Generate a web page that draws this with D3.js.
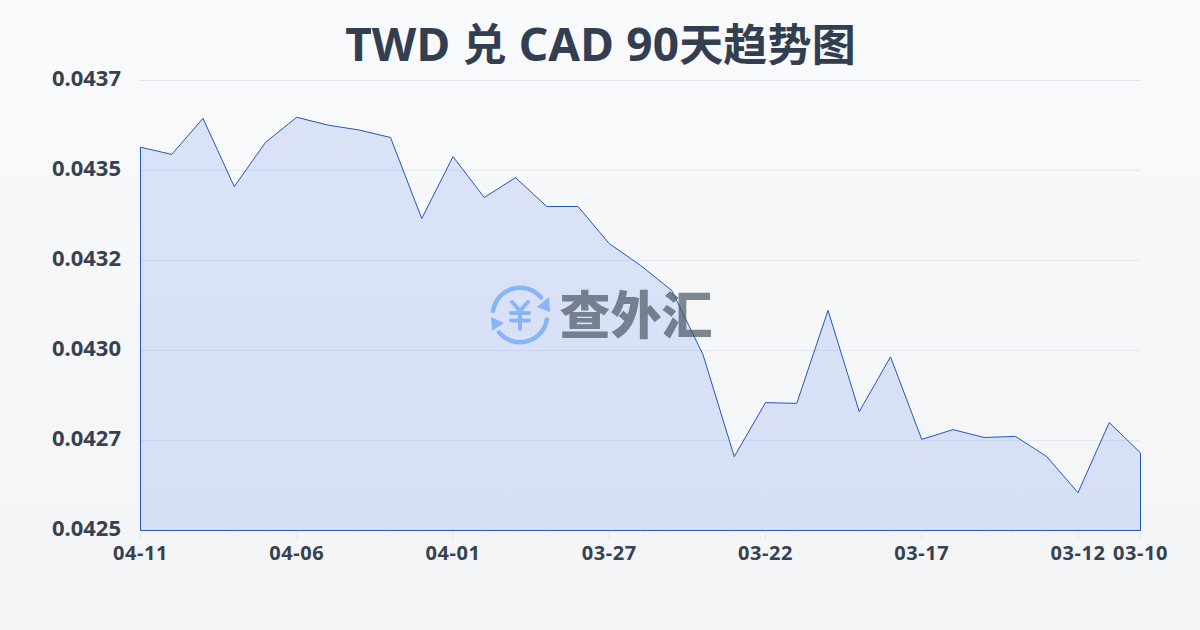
<!DOCTYPE html>
<html><head><meta charset="utf-8">
<script src="https://cdn.jsdelivr.net/npm/d3@7/dist/d3.min.js"></script>
<style>html,body{margin:0;padding:0;width:1200px;height:630px;overflow:hidden}svg{display:block}
text{font-family:"Noto Sans","Noto Sans CJK SC",sans-serif;font-weight:700}</style>
</head><body><svg id="c" width="1200" height="630"></svg>
<script>
const titleRuns = [["TWD ",46],["兑",44],[" CAD 90",46],["天趋势图",44]];
const dates = ["04-11","04-10","04-09","04-08","04-07","04-06","04-05","04-04","04-03","04-02","04-01","03-31","03-30","03-29","03-28","03-27","03-26","03-25","03-24","03-23","03-22","03-21","03-20","03-19","03-18","03-17","03-16","03-15","03-14","03-13","03-12","03-11","03-10"];
const rates = [0.043522,0.043503,0.043599,0.043417,0.043535,0.043602,0.043581,0.043568,0.043548,0.043332,0.043497,0.043388,0.043441,0.043364,0.043364,0.043265,0.043207,0.04314,0.042969,0.042697,0.042841,0.042839,0.043087,0.042817,0.042963,0.042743,0.042769,0.042748,0.042751,0.042697,0.042601,0.042788,0.042707];
const xTickLabels = ["04-11","04-06","04-01","03-27","03-22","03-17","03-12","03-10"];
const yTicks = [0.0425,0.04274,0.04298,0.04322,0.04346,0.0437];
const yDomain = [0.0425,0.0437];
const watermarkText = "查外汇";

const svg = d3.select("#c");
const defs = svg.append("defs");
const bg = defs.append("linearGradient").attr("id","bg").attr("x1",0).attr("y1",0).attr("x2",0).attr("y2",1);
bg.append("stop").attr("offset",0).attr("stop-color","#f8fafc");
bg.append("stop").attr("offset",1).attr("stop-color","#f3f4f6");
svg.append("rect").attr("width",1200).attr("height",630).attr("fill","url(#bg)");

const x = d3.scalePoint().domain(dates).range([140.5,1140.5]);
const y = d3.scaleLinear().domain(yDomain).range([530.5,80.5]);
const ink = "#374151";
const tickFont = '"Noto Sans","Noto Sans CJK SC",sans-serif';

const title = svg.append("text").attr("x",600.5).attr("y",61).attr("text-anchor","middle").attr("fill","#333e50").attr("letter-spacing",0.15);
title.selectAll("tspan").data(titleRuns).join("tspan").attr("font-size",d=>d[1]).text(d=>d[0]).style("white-space","pre").attr("xml:space","preserve");

const gy = svg.append("g").attr("transform","translate(140,0)").call(d3.axisLeft(y).offset(0).tickValues(yTicks).tickFormat(d3.format(".4f")).tickSize(0).tickPadding(19));
gy.select(".domain").remove();
gy.selectAll("text").attr("font-size",22).attr("fill",ink).attr("dy","0.27em").style("font-family",tickFont);
gy.selectAll("line").attr("x2",1000).attr("stroke","#e2e8f0").attr("stroke-width",1);

const gx = svg.append("g").attr("transform","translate(0,530)").call(d3.axisBottom(x).offset(0).tickValues(xTickLabels).tickSize(10).tickPadding(6));
gx.select(".domain").remove();
gx.selectAll("text").attr("font-size",20).attr("fill",ink).attr("letter-spacing",0.6).style("font-family",tickFont);
gx.selectAll("line").attr("stroke","#e2e8f0");

const area = d3.area().x((d,i)=>x(dates[i])).y0(y(yDomain[0])).y1(d=>y(d));
svg.append("path").datum(rates).attr("d",area).attr("fill","#2a5ee0").attr("fill-opacity",0.14).attr("stroke","#2456bd").attr("stroke-width",1);

// watermark logo
const wm = svg.append("g");
const cx=520, cy=315;
const blue="#8ab4f8";
const arc = d3.arc().innerRadius(25).outerRadius(29.5).cornerRadius(2.2);
wm.append("path").attr("transform",`translate(${cx},${cy})`).attr("d",arc({startAngle:-1.5,endAngle:0.95})).attr("fill",blue);
wm.append("path").attr("transform",`translate(${cx},${cy})`).attr("d",arc({startAngle:1.65,endAngle:4.1})).attr("fill",blue);
wm.append("path").attr("d",d3.line()([[549,297],[550,312],[537,307]])+"Z").attr("fill",blue);
wm.append("path").attr("d",d3.line()([[491,317],[492,331],[504,323]])+"Z").attr("fill",blue);
[[[512,302],[520,311],[528,302]],[[511,313],[529,313]],[[511,320.5],[529,320.5]],[[520,311],[520,329]]].forEach(s=>{
  wm.append("path").attr("d",d3.line()(s)).attr("fill","none").attr("stroke",blue).attr("stroke-width",4).attr("stroke-linecap","round");
});
wm.append("text").attr("x",559.5).attr("y",334).attr("font-size",51).attr("fill","#4b5563").attr("fill-opacity",0.7).style("font-family",'"Noto Sans CJK SC"').style("font-weight",900).text(watermarkText);
</script></body></html>
